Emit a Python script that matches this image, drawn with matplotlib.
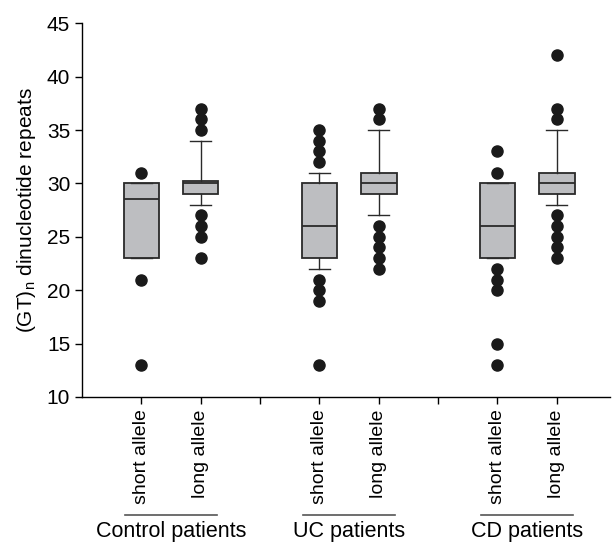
import matplotlib.pyplot as plt
from matplotlib.transforms import blended_transform_factory

plt.rcParams['font.family'] = ['Liberation Sans', 'DejaVu Sans']

# box statistics per group (short/long allele for each patient group)
positions = [1, 2, 4, 5, 7, 8]
tick_pos = [1, 2, 3, 4, 5, 6, 7, 8]
tick_labels = ["short allele", "long allele", "",
               "short allele", "long allele", "",
               "short allele", "long allele"]
medians = [28.5, 30.0, 26, 30, 26, 30]
q1 = [23, 29, 23, 29, 23, 29]
q3 = [30, 30.25, 30, 31, 30, 31]
whis_lo = [23, 28, 22, 27, 23, 28]
whis_hi = [30, 34, 31, 35, 30, 35]
fliers = [
    [31, 21, 13],
    [35, 36, 37, 27, 26, 25, 23],
    [32, 33, 34, 35, 21, 20, 19, 13],
    [36, 37, 26, 25, 24, 23, 22],
    [33, 31, 22, 21, 20, 15, 13],
    [36, 37, 42, 27, 26, 25, 24, 23],
]
groups = ["Control patients", "UC patients", "CD patients"]
group_centers = [1.5, 4.5, 7.5]

stats = []
for i in range(len(positions)):
    stats.append(dict(med=medians[i], q1=q1[i], q3=q3[i],
                      whislo=whis_lo[i], whishi=whis_hi[i],
                      fliers=fliers[i]))

fig = plt.figure(figsize=(6.12, 5.43), dpi=100)
ax = fig.add_axes([0.134, 0.269, 0.863, 0.688])

ax.bxp(stats, positions=positions, widths=0.6, patch_artist=True,
       boxprops=dict(facecolor="#bdbec1", edgecolor="#2a2a2a", linewidth=1.3),
       medianprops=dict(color="#2a2a2a", linewidth=1.3),
       whiskerprops=dict(color="#2a2a2a", linewidth=1.0),
       capprops=dict(color="#2a2a2a", linewidth=1.0),
       capwidths=0.36,
       flierprops=dict(marker="o", markersize=8, markerfacecolor="#1a1a1a",
                       markeredgecolor="#1a1a1a"))

ax.set_xlim(0, 8.9)
ax.set_ylim(10, 45)
ax.set_yticks(range(10, 46, 5))
ax.set_xticks(tick_pos)
ax.set_xticklabels(tick_labels, rotation=90, fontsize=14)
ax.tick_params(axis="y", labelsize=15, direction="out", length=5, width=1)
ax.tick_params(axis="x", direction="out", length=5, width=1, pad=4)
for s in ["top", "right"]:
    ax.spines[s].set_visible(False)
for s in ["left", "bottom"]:
    ax.spines[s].set_linewidth(1.0)
ax.set_ylabel(r"(GT)$_\mathregular{n}$ dinucleotide repeats", fontsize=15, labelpad=6)

# group labels with underline beneath the tick labels
trans = blended_transform_factory(ax.transData, fig.transFigure)
line_y = 1 - 515 / 543
text_y = 1 - 532 / 543
for c, g in zip(group_centers, groups):
    ax.plot([c - 0.78, c + 0.78], [line_y, line_y], color="#555555", lw=1.2,
            transform=trans, clip_on=False)
    ax.text(c, text_y, g, transform=trans, fontsize=15.5,
            ha="center", va="center")

fig.savefig("out.png", dpi=100)
